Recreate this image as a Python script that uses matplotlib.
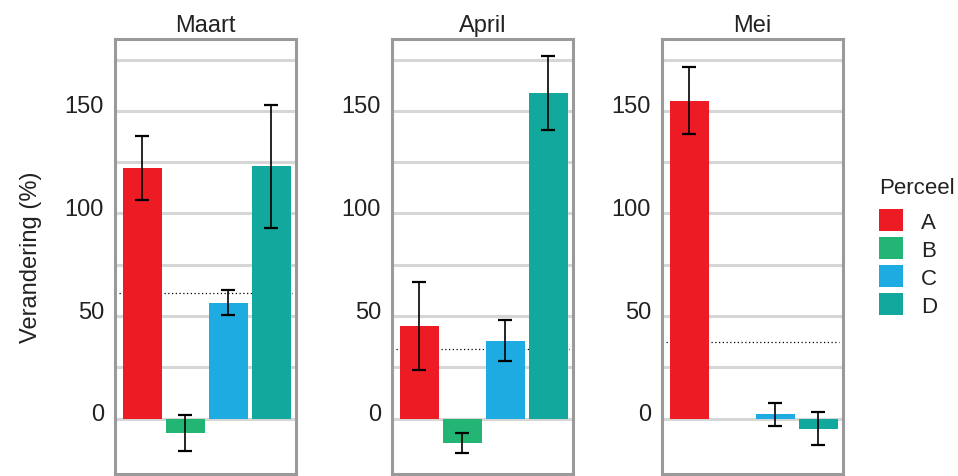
import numpy as np
import matplotlib.pyplot as plt
import matplotlib.transforms as mtransforms
from matplotlib.patches import Patch

plt.rcParams['font.family'] = ['Liberation Sans', 'DejaVu Sans']

months = ['Maart', 'April', 'Mei']
plots = ['A', 'B', 'C', 'D']
colors = ['#ED1C24', '#22B573', '#1DABE2', '#12A89D']

maart = [122, -7, 56.5, 123]
maart_err = [15.5, 8.6, 6, 30]
april = [45, -12, 38, 158.5]
april_err = [21.5, 4.8, 10, 18]
mei = [155, np.nan, 2, -5]
mei_err = [16.3, np.nan, 5.5, 8]
ref_lines = [61, 34, 37.5]

values = [maart, april, mei]
errors = [maart_err, april_err, mei_err]

fig = plt.figure(figsize=(9.58, 4.77), dpi=100)
lefts = [115, 392, 662]
txt_col = '#222222'

for i, m in enumerate(months):
    ax = fig.add_axes([lefts[i] / 958, 2 / 477, 181 / 958, 435 / 477])
    x = np.arange(len(plots))
    for g in range(0, 200, 25):
        ax.axhline(g, color='#d6d6d6', lw=2.2, zorder=0)
    ax.axhline(ref_lines[i], color='black', lw=0.9, ls=(0, (1, 2)), zorder=1,
               xmin=0.02, xmax=0.98)
    ax.bar(x, values[i], width=0.9, color=colors, zorder=2)
    ax.errorbar(x, values[i], yerr=errors[i], fmt='none', ecolor='black',
                elinewidth=1.2, capsize=5, capthick=1.6, zorder=3)
    ax.set_xlim(-0.63, 3.57)
    ax.set_ylim(-27, 185)
    ax.set_xticks([])
    ax.set_yticks([0, 50, 100, 150])
    ax.tick_params(axis='y', length=0, pad=8, labelsize=17, labelcolor=txt_col)
    off = mtransforms.ScaledTranslation(0, 7 / 100, fig.dpi_scale_trans)
    for lab in ax.get_yticklabels():
        lab.set_transform(lab.get_transform() + off)
    for s in ax.spines.values():
        s.set_color('#9a9a9a')
        s.set_linewidth(2.2)
    ax.set_title(m, fontsize=17, color=txt_col, pad=6)
    if i == 0:
        ax.set_ylabel('Verandering (%)', fontsize=17, color=txt_col, labelpad=16)

fig.text(879 / 958, 1 - 189 / 477, 'Perceel', fontsize=16, color=txt_col,
         ha='left', va='center')
handles = [Patch(facecolor=c, edgecolor='none') for c in colors]
leg = fig.legend(handles, plots, loc='upper left',
                 bbox_to_anchor=(879 / 958, 1 - 210 / 477), frameon=False,
                 borderpad=0, borderaxespad=0,
                 fontsize=16, handlelength=1.1,
                 handleheight=1.15, handletextpad=0.8, labelspacing=0.2)
for t in leg.get_texts():
    t.set_color(txt_col)

fig.savefig('out.png', dpi=100)
